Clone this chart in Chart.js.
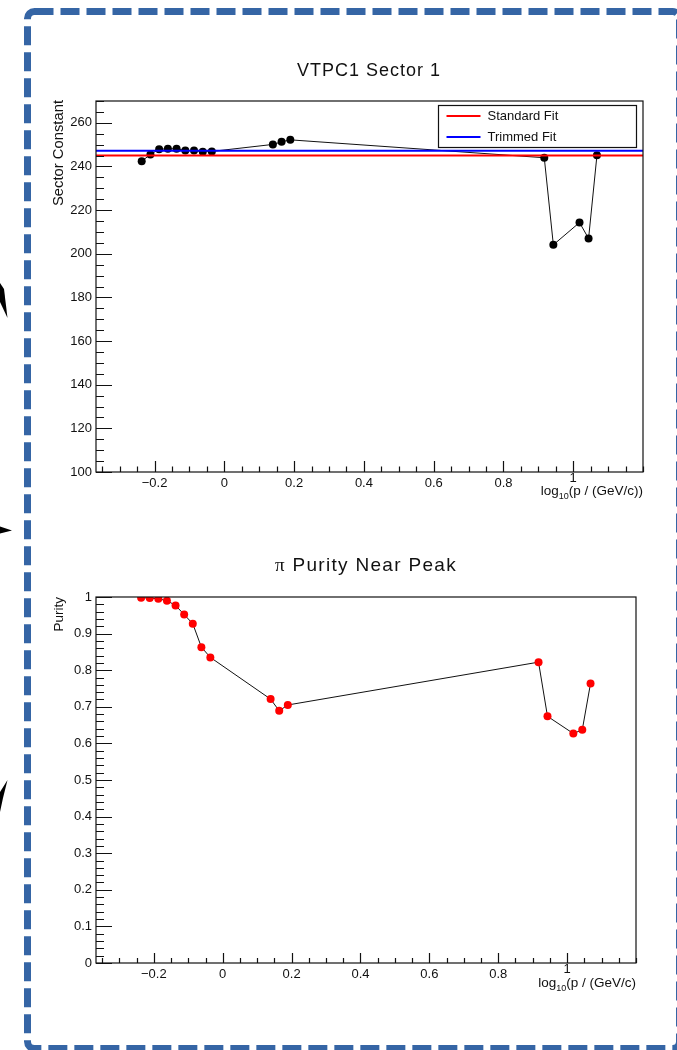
<!DOCTYPE html>
<html>
<head>
<meta charset="utf-8">
<script src="https://cdn.jsdelivr.net/npm/chart.js@4.4.1/dist/chart.umd.min.js"></script>
<style>
  html, body { margin: 0; padding: 0; background: #fff; }
  #page { position: relative; width: 677px; height: 1050px; overflow: hidden;
          font-family: "Liberation Sans", Arial, Helvetica, sans-serif; color: #111; }
  #page canvas { position: absolute; left: 0; }
  .t { position: absolute; white-space: nowrap; }
  .title { font-size: 18px; line-height: 20px; text-align: center; width: 300px; letter-spacing: 1px; }
  .xt { font-size: 13.5px; line-height: 16px; text-align: right; }
  .xt sub { font-size: 9px; vertical-align: -4px; line-height: 0; }
  .yt { font-size: 13.5px; line-height: 16px; text-align: right; width: 200px;
        transform-origin: 0 0; transform: rotate(-90deg); }
  .pi { font-family: "Liberation Serif", "DejaVu Serif", serif; }
  #frame { position: absolute; left: 0; top: 0; }
</style>
</head>
<body>
<div id="page">
  <svg id="frame" width="677" height="1050">
    <rect x="27.5" y="11.5" width="652" height="1037" rx="7" ry="7"
          fill="none" stroke="#3565a5" stroke-width="7" stroke-dasharray="19 7"/>
    <polygon points="0,283 4,289 7.5,318 0,302" fill="#000"/>
    <polygon points="0,526.5 12,530.5 0,533.5" fill="#000"/>
    <polygon points="7.5,780 3,798 0,812 0,792" fill="#000"/>
  </svg>

  <canvas id="sectorChart" width="677" height="520" style="top:0"></canvas>
  <canvas id="purityChart" width="677" height="530" style="top:520px"></canvas>

  <div class="t title" style="left:219px; top:60px;">VTPC1 Sector 1</div>
  <div class="t title" style="left:216px; top:555px; font-size:19px; letter-spacing:1.3px;"><span class="pi">π</span> Purity Near Peak</div>

  <div class="t xt" style="right:34px; top:483px;">log<sub>10</sub>(p / (GeV/c))</div>
  <div class="t xt" style="right:41px; top:975px;">log<sub>10</sub>(p / (GeV/c)</div>

  <div class="t yt" style="left:50px; top:300px; font-size:14.8px;">Sector Constant</div>
  <div class="t yt" style="left:51px; top:797px;">Purity</div>
</div>

<script>
// log10 of the track momentum bin centres
const logP = [-0.237, -0.212, -0.187, -0.162, -0.137, -0.112, -0.087, -0.062, -0.036,
              0.139, 0.164, 0.189, 0.917, 0.943, 1.018, 1.044, 1.068];

// VTPC1 sector 1 calibration constant per momentum bin
const sectorConstant = [242.4, 245.5, 247.9, 248.1, 248.1, 247.3, 247.3, 246.7, 246.9,
                        250.1, 251.3, 252.2, 244.0, 204.1, 214.3, 207.0, 245.1];

// pion purity near the dE/dx peak per momentum bin
const purity = [0.998, 0.997, 0.995, 0.990, 0.977, 0.952, 0.927, 0.863, 0.835,
                0.721, 0.689, 0.705, 0.822, 0.674, 0.627, 0.637, 0.764];

// constant fits to the sector constant
const standardFit = 245.0;
const trimmedFit = 247.2;

// axis ranges and tick labels
const xRange = [-0.368, 1.2];
const xTicks = [-0.2, 0, 0.2, 0.4, 0.6, 0.8, 1];
const xTickLabels = ['\u22120.2', '0', '0.2', '0.4', '0.6', '0.8', '1'];
const sectorRange = [100, 270];
const sectorTicks = [100, 120, 140, 160, 180, 200, 220, 240, 260];
const sectorTickLabels = ['100', '120', '140', '160', '180', '200', '220', '240', '260'];
const purityRange = [0, 1];
const purityTicks = [0, 0.1, 0.2, 0.3, 0.4, 0.5, 0.6, 0.7, 0.8, 0.9, 1];
const purityTickLabels = ['0', '0.1', '0.2', '0.3', '0.4', '0.5', '0.6', '0.7', '0.8', '0.9', '1'];

const FONT = '"Liberation Sans", Arial, Helvetica, sans-serif';
const INK = '#111';

// Frame plus inward-pointing ticks on the left and bottom axes
const frameTicks = {
  id: 'frameTicks',
  afterDraw(chart, args, o) {
    const { ctx, chartArea: a, scales: { x, y } } = chart;
    ctx.save();
    ctx.strokeStyle = INK;
    ctx.lineWidth = 1.2;
    ctx.strokeRect(a.left, a.top, a.right - a.left, a.bottom - a.top);
    ctx.beginPath();
    const isMajor = (v, list) => list.some(t => Math.abs(t - v) < 1e-6);
    // bottom axis
    const x0 = Math.ceil((x.min - 1e-9) / o.xMinor) * o.xMinor;
    for (let v = x0; v <= x.max + 1e-9; v += o.xMinor) {
      const px = Math.round(x.getPixelForValue(v)) + 0.5;
      const len = isMajor(v, o.xMajor) ? o.xMajorLen : o.xMajorLen / 2;
      ctx.moveTo(px, a.bottom);
      ctx.lineTo(px, a.bottom - len);
    }
    // left axis
    const y0 = Math.ceil((y.min - 1e-9) / o.yMinor) * o.yMinor;
    for (let v = y0; v <= y.max + 1e-9; v += o.yMinor) {
      const py = Math.round(y.getPixelForValue(v)) + 0.5;
      const len = isMajor(v, o.yMajor) ? o.yMajorLen : o.yMajorLen / 2;
      ctx.moveTo(a.left, py);
      ctx.lineTo(a.left + len, py);
    }
    ctx.stroke();
    ctx.restore();
  }
};

// Boxed legend in the upper right corner of the plot
const boxLegend = {
  id: 'boxLegend',
  afterDraw(chart, args, o) {
    if (!o.show) return;
    const { ctx, chartArea: a } = chart;
    const items = chart.data.datasets.filter(d => d.inLegend);
    const w = 198, h = 42;
    const bx = a.right - 6.5 - w, by = a.top + 4.5;
    ctx.save();
    ctx.fillStyle = '#fff';
    ctx.fillRect(bx, by, w, h);
    ctx.strokeStyle = INK;
    ctx.lineWidth = 1.2;
    ctx.strokeRect(bx, by, w, h);
    ctx.font = '13px ' + FONT;
    ctx.textBaseline = 'middle';
    items.forEach((d, i) => {
      const cy = by + 10.5 + i * 21;
      ctx.strokeStyle = d.borderColor;
      ctx.lineWidth = 2;
      ctx.beginPath();
      ctx.moveTo(bx + 8, cy);
      ctx.lineTo(bx + 42, cy);
      ctx.stroke();
      ctx.fillStyle = INK;
      ctx.fillText(d.label, bx + 49, cy + 0.5);
    });
    ctx.restore();
  }
};

function fixedTicks(values) {
  return scale => { scale.ticks = values.map(v => ({ value: v })); };
}

// the last labelled x tick sits a little higher so it clears the axis title
const lastX = xTicks.length - 1;

function makeChart(id, datasets, yRange, yTicks, yLabels, padding, tickOpts, legend) {
  return new Chart(document.getElementById(id), {
    type: 'scatter',
    data: { datasets },
    options: {
      responsive: false,
      animation: false,
      devicePixelRatio: 1,
      layout: { padding },
      plugins: {
        legend: { display: false },
        tooltip: { enabled: false },
        frameTicks: tickOpts,
        boxLegend: { show: legend }
      },
      scales: {
        x: {
          type: 'linear',
          min: xRange[0], max: xRange[1],
          grid: { display: false, drawTicks: false },
          border: { display: false },
          afterBuildTicks: fixedTicks(xTicks),
          afterFit: s => { s.height = 30; },
          ticks: {
            autoSkip: false, maxRotation: 0, padding: 4,
            color: INK,
            font: c => ({ family: FONT, size: 13, lineHeight: c.index === lastX ? 0.35 : 1.2 }),
            callback: (v, i) => xTickLabels[i]
          }
        },
        y: {
          type: 'linear',
          min: yRange[0], max: yRange[1],
          grid: { display: false, drawTicks: false },
          border: { display: false },
          afterBuildTicks: fixedTicks(yTicks),
          afterFit: s => { s.width = 40; },
          ticks: {
            autoSkip: false, padding: 4,
            color: INK, font: { family: FONT, size: 13 },
            callback: (v, i) => yLabels[i]
          }
        }
      }
    },
    plugins: [frameTicks, boxLegend]
  });
}

const sectorPoints = logP.map((x, i) => ({ x, y: sectorConstant[i] }));
const purityPoints = logP.map((x, i) => ({ x, y: purity[i] }));

makeChart('sectorChart', [
  {
    label: 'Sector constant',
    data: sectorPoints,
    showLine: true, tension: 0,
    borderColor: '#111', borderWidth: 1,
    pointRadius: 4, pointBackgroundColor: '#000', pointBorderWidth: 0,
    order: 2
  },
  {
    label: 'Standard Fit', inLegend: true,
    data: [{ x: xRange[0], y: standardFit }, { x: xRange[1], y: standardFit }],
    showLine: true, borderColor: '#ff0000', borderWidth: 2, pointRadius: 0,
    order: 1
  },
  {
    label: 'Trimmed Fit', inLegend: true,
    data: [{ x: xRange[0], y: trimmedFit }, { x: xRange[1], y: trimmedFit }],
    showLine: true, borderColor: '#0000ff', borderWidth: 2, pointRadius: 0,
    order: 1
  }
], sectorRange, sectorTicks, sectorTickLabels,
  { left: 56, top: 101, right: 34, bottom: 18 },
  { xMajor: xTicks, xMinor: 0.05, xMajorLen: 11, yMajor: sectorTicks, yMinor: 5, yMajorLen: 16 },
  true);

makeChart('purityChart', [
  {
    label: 'Purity',
    data: purityPoints,
    showLine: true, tension: 0,
    borderColor: '#111', borderWidth: 1,
    pointRadius: 4, pointBackgroundColor: '#ff0000', pointBorderWidth: 0
  }
], purityRange, purityTicks, purityTickLabels,
  { left: 56, top: 77, right: 41, bottom: 57 },
  { xMajor: xTicks, xMinor: 0.05, xMajorLen: 10, yMajor: purityTicks, yMinor: 0.02, yMajorLen: 16 },
  false);
</script>
</body>
</html>
